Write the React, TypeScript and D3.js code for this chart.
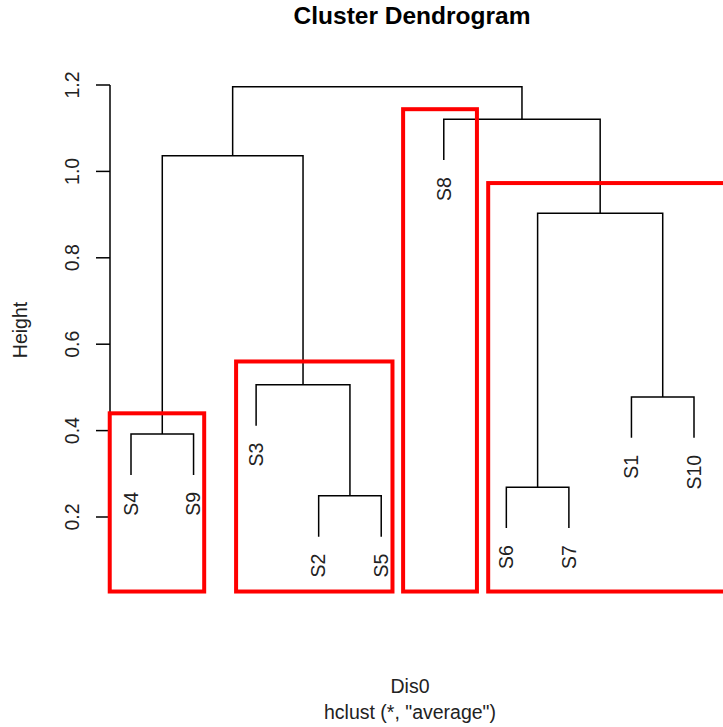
import React from "react";
import * as d3 from "d3";

const leafLabels = ["S4", "S9", "S3", "S2", "S5", "S8", "S6", "S7", "S1", "S10"];
// merge steps (R hclust style); "#k" refers to the k-th merge
const mergeLeft = ["S2", "S6", "S4", "S1", "S3", "#2", "#3", "S8", "#7"];
const mergeRight = ["S5", "S7", "S9", "S10", "#1", "#4", "#5", "#6", "#8"];
const mergeHeights = [0.249, 0.269, 0.392, 0.478, 0.506, 0.903, 1.036, 1.121, 1.196];
const yTicks = [0.2, 0.4, 0.6, 0.8, 1.0, 1.2];
// highlight boxes in data units (leaf index, height)
const boxX0 = [0.66, 2.68, 5.35, 6.71];
const boxX1 = [2.17, 5.18, 6.53, 11.0];
const boxTop = [0.44, 0.56, 1.144, 0.973];
const boxBottom = [0.0275, 0.0275, 0.0275, 0.0275];

const W = 723;
const H = 727;
const FONT = "'Liberation Sans', Arial, sans-serif";
const FS = 19.5;

export default function App() {
  const x = d3.scaleLinear().domain([1, 10]).range([131, 694]);
  const y = d3.scaleLinear().domain([0, 1.2]).range([603.4, 85]);
  const hang = 0.1 * (d3.max(mergeHeights)! - d3.min(mergeHeights)!);

  const pos: Record<string, { x: number; h: number; leaf: boolean }> = {};
  leafLabels.forEach((l, i) => {
    pos[l] = { x: i + 1, h: 0, leaf: true };
  });
  const segs: string[] = [];
  const leafBottoms: Record<string, number> = {};
  mergeHeights.forEach((h, k) => {
    const a = pos[mergeLeft[k]];
    const b = pos[mergeRight[k]];
    const ya = a.leaf ? h - hang : a.h;
    const yb = b.leaf ? h - hang : b.h;
    if (a.leaf) leafBottoms[mergeLeft[k]] = ya;
    if (b.leaf) leafBottoms[mergeRight[k]] = yb;
    const p = d3.path();
    p.moveTo(x(a.x), y(ya));
    p.lineTo(x(a.x), y(h));
    p.lineTo(x(b.x), y(h));
    p.lineTo(x(b.x), y(yb));
    segs.push(p.toString());
    pos["#" + (k + 1)] = { x: (a.x + b.x) / 2, h, leaf: false };
  });

  const axisX = 110;
  const cx = 412;

  return (
    <svg
      width={W}
      height={H}
      style={{ position: "absolute", left: 0, top: 0, background: "#fff" }}
      fontFamily={FONT}
    >
      <rect x={0} y={0} width={W} height={H} fill="#fff" />
      <text x={cx} y={24} textAnchor="middle" fontWeight="bold" fontSize={24.5} fill="#000">
        Cluster Dendrogram
      </text>

      {/* y axis */}
      <line x1={axisX} x2={axisX} y1={y(yTicks[0])} y2={y(yTicks[yTicks.length - 1])} stroke="#000" strokeWidth={1.5} />
      {yTicks.map((t) => (
        <g key={t}>
          <line x1={axisX - 14} x2={axisX} y1={y(t)} y2={y(t)} stroke="#000" strokeWidth={1.5} />
          <text
            transform={`translate(${axisX - 31},${y(t)}) rotate(-90)`}
            textAnchor="middle"
            fontSize={FS}
            fill="#222"
          >
            {t.toFixed(1)}
          </text>
        </g>
      ))}
      <text transform={`translate(27,330) rotate(-90)`} textAnchor="middle" fontSize={FS} fill="#222">
        Height
      </text>

      {/* dendrogram */}
      {segs.map((d, i) => (
        <path key={i} d={d} fill="none" stroke="#000" strokeWidth={1.5} />
      ))}
      {leafLabels.map((l, i) => (
        <text
          key={l}
          transform={`translate(${x(i + 1)},${y(leafBottoms[l]) + 17}) rotate(-90)`}
          textAnchor="end"
          dy="0.35em"
          fontSize={FS}
          fill="#222"
        >
          {l}
        </text>
      ))}

      {/* highlight boxes */}
      {boxX0.map((b, i) => (
        <rect
          key={i}
          x={x(b)}
          y={y(boxTop[i])}
          width={x(boxX1[i]) - x(b)}
          height={y(boxBottom[i]) - y(boxTop[i])}
          fill="none"
          stroke="#ff0000"
          strokeWidth={4}
        />
      ))}

      <text x={cx - 2} y={693} textAnchor="middle" fontSize={FS} fill="#222">
        Dis0
      </text>
      <text x={cx - 2} y={719} textAnchor="middle" fontSize={FS} fill="#222">
        hclust (*, "average")
      </text>
    </svg>
  );
}
